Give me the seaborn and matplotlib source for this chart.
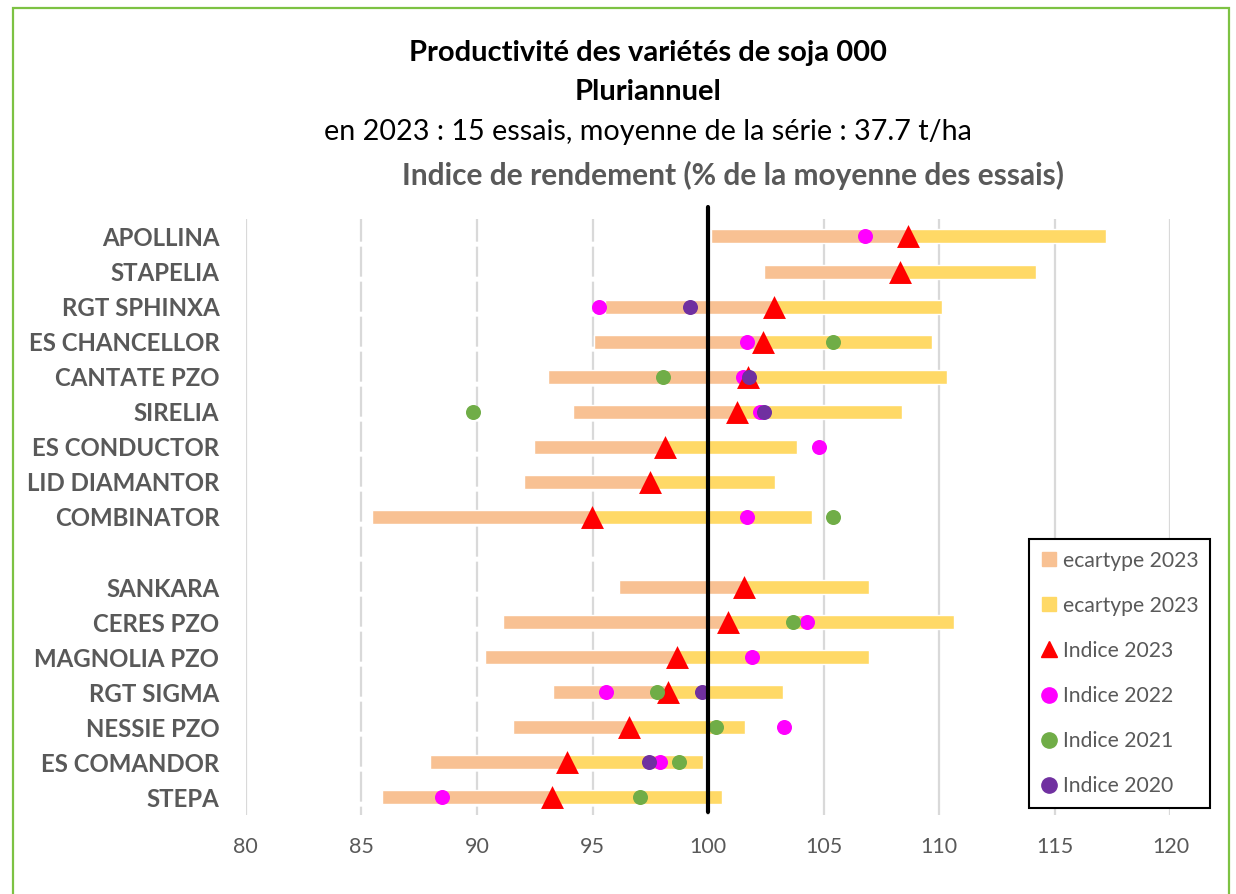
import numpy as np
import pandas as pd
import seaborn as sns
import matplotlib.pyplot as plt
from matplotlib.lines import Line2D
from matplotlib.patches import Rectangle

nan = np.nan

# Données (indice en % de la moyenne des essais)
varietes = ["APOLLINA", "STAPELIA", "RGT SPHINXA", "ES CHANCELLOR", "CANTATE PZO",
            "SIRELIA", "ES CONDUCTOR", "LID DIAMANTOR", "COMBINATOR", "",
            "SANKARA", "CERES PZO", "MAGNOLIA PZO", "RGT SIGMA", "NESSIE PZO",
            "ES COMANDOR", "STEPA"]
indice_2023 = [108.66, 108.30, 102.84, 102.36, 101.71, 101.26, 98.15, 97.47, 94.98, nan,
               101.55, 100.88, 98.65, 98.25, 96.57, 93.88, 93.23]
ecartype_2023 = [8.55, 5.90, 7.28, 7.31, 8.63, 7.12, 5.70, 5.43, 9.50, nan,
                 5.40, 9.77, 8.30, 4.97, 5.03, 5.90, 7.35]
indice_2022 = [106.79, nan, 95.28, 101.68, 101.52, 102.24, 104.80, nan, 101.70, nan,
               nan, 104.29, 101.89, 95.58, 103.30, 97.90, 88.49]
indice_2021 = [nan, nan, nan, 105.39, 98.06, 89.84, nan, nan, 105.39, nan,
               nan, 103.69, nan, 97.79, 100.33, 98.74, 97.04]
indice_2020 = [nan, nan, 99.23, nan, 101.78, 102.42, nan, nan, nan, nan,
               nan, nan, nan, 99.74, nan, 97.44, nan]

df = pd.DataFrame({
    "variete": varietes,
    "i2023": indice_2023,
    "sd": ecartype_2023,
    "i2022": indice_2022,
    "i2021": indice_2021,
    "i2020": indice_2020,
})
df["pos"] = np.arange(len(df))

saumon = "#F8C193"
jaune = "#FFD966"
gris = "#595959"

sns.set_style("white")
plt.rcParams["font.family"] = ["Lato", "DejaVu Sans"]
plt.rcParams["lines.scale_dashes"] = False

fig = plt.figure(figsize=(12.36, 8.94), dpi=100)
ax = fig.add_axes([0.1988, 0.0884, 0.7482, 0.6667])

# grille verticale (pointillée à gauche de 100)
for t in range(80, 121, 5):
    if t in (85, 90, 95):
        ax.axvline(t, color="#D9D9D9", lw=1.6, ls=(15.6, (21.6, 3.6)), zorder=0)
    else:
        ax.axvline(t, color="#D9D9D9", lw=1.6, zorder=0)

# barres écart-type : indice - sd -> indice (saumon), indice -> indice + sd (jaune)
ax.barh(df["pos"], df["sd"], left=df["i2023"] - df["sd"], height=0.4, color=saumon, zorder=2)
ax.barh(df["pos"], df["sd"], left=df["i2023"], height=0.4, color=jaune, zorder=2)

sns.scatterplot(data=df, x="i2022", y="pos", color="#FF00FF", s=117, linewidth=0,
                zorder=3, ax=ax, legend=False)
sns.scatterplot(data=df, x="i2023", y="pos", color="#FF0000", marker="^", s=272,
                linewidth=0, zorder=4, ax=ax, legend=False)
sns.scatterplot(data=df, x="i2021", y="pos", color="#70AD47", s=117, linewidth=0,
                zorder=5, ax=ax, legend=False)
sns.scatterplot(data=df, x="i2020", y="pos", color="#7030A0", s=117, linewidth=0,
                zorder=5, ax=ax, legend=False)

# ligne de référence 100
ax.plot([100, 100], [-0.84, 16.41], color="black", lw=3, clip_on=False, zorder=6)

ax.set_xlim(80, 120)
ax.set_ylim(16.5, -0.5)
ax.set_xticks(range(80, 121, 5))
ax.set_yticks(df["pos"], labels=varietes)
ax.set_xlabel("")
ax.set_ylabel("")
ax.tick_params(axis="x", length=0, pad=16, labelsize=15.5, labelcolor=gris)
ax.tick_params(axis="y", length=0, pad=19, labelsize=17.3, labelcolor=gris)
for lab in ax.get_yticklabels():
    lab.set_fontweight("bold")
sns.despine(ax=ax, left=True, bottom=True)

handles = [
    Line2D([], [], marker="s", ls="", color=saumon, ms=10),
    Line2D([], [], marker="s", ls="", color=jaune, ms=10),
    Line2D([], [], marker="^", ls="", color="#FF0000", ms=11),
    Line2D([], [], marker="o", ls="", color="#FF00FF", ms=11),
    Line2D([], [], marker="o", ls="", color="#70AD47", ms=11),
    Line2D([], [], marker="o", ls="", color="#7030A0", ms=11),
]
labels = ["ecartype 2023", "ecartype 2023", "Indice 2023", "Indice 2022",
          "Indice 2021", "Indice 2020"]
leg = ax.legend(handles, labels, loc="upper left",
                bbox_to_anchor=(1029 / 1236, 1 - 539 / 894), bbox_transform=fig.transFigure,
                fontsize=15.2, labelcolor=gris, frameon=True, fancybox=False,
                framealpha=1, edgecolor="black", borderpad=0.55, labelspacing=1.19,
                handlelength=0.75, handletextpad=0.3, borderaxespad=0)
leg.get_frame().set_linewidth(1.5)

# titres
fig.text(0.524, 1 - 53 / 894, "Productivité des variétés de soja 000", ha="center",
         va="center", fontsize=21, fontweight="bold", color="black")
fig.text(0.524, 1 - 92 / 894, "Pluriannuel", ha="center", va="center",
         fontsize=21, fontweight="bold", color="black")
fig.text(0.524, 1 - 132 / 894, "en 2023 : 15 essais, moyenne de la série : 37.7 t/ha",
         ha="center", va="center", fontsize=20.7, color="black")
fig.text(733 / 1236, 1 - 175 / 894, "Indice de rendement (% de la moyenne des essais)",
         ha="center", va="center", fontsize=21.5, fontweight="bold", color=gris)

# cadre vert du graphique
fig.patches.append(Rectangle((13 / 1236, -0.05), 1216 / 1236, 0.991 + 0.05, fill=False,
                             edgecolor="#7DC243", lw=1.6, transform=fig.transFigure))

fig.savefig("out.png", dpi=100)
